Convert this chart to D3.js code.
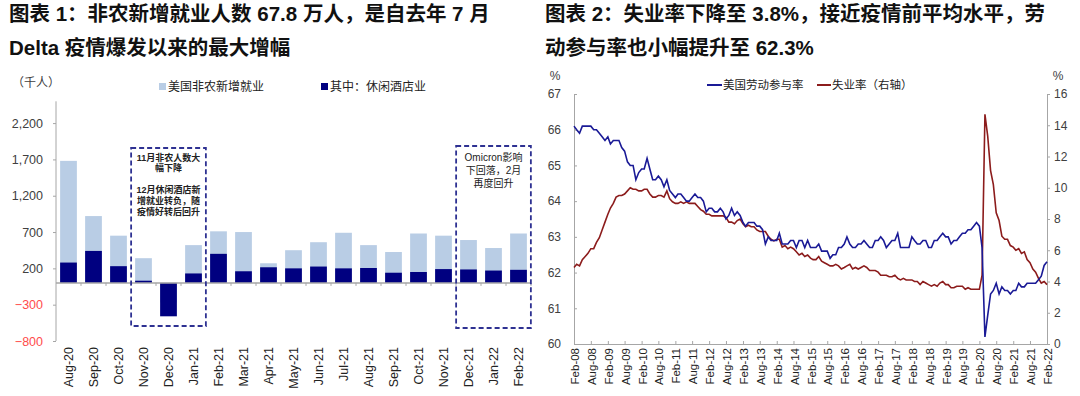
<!DOCTYPE html>
<html>
<head>
<meta charset="utf-8">
<script src="https://cdn.jsdelivr.net/npm/d3@7"></script>
<style>
  body { margin: 0; background: #fff; }
  svg { display: block; font-family: "Liberation Sans", Arial, "Noto Sans CJK SC", sans-serif; }
</style>
</head>
<body>
<script>
// ---- chart 1 data (thousand persons) ----
var months = ["Aug-20","Sep-20","Oct-20","Nov-20","Dec-20","Jan-21","Feb-21","Mar-21","Apr-21","May-21",
  "Jun-21","Jul-21","Aug-21","Sep-21","Oct-21","Nov-21","Dec-21","Jan-22","Feb-22"];
var payrolls = [1680, 920, 650, 340, -270, 520, 710, 700, 270, 450, 560, 690, 520, 425, 680, 650, 590, 480, 680];
var leisure  = [280, 440, 230, 30, -460, 130, 400, 160, 215, 200, 225, 200, 205, 140, 150, 190, 185, 170, 180];
var barTicks = [-800, -300, 200, 700, 1200, 1700, 2200];

// ---- chart 2 data, monthly from Feb-08 to Feb-22 ----
var lfpr = [
  66.1, 66.0, 65.9, 66.1, 66.1, 66.1, 66.1, 66.0, 66.0, 65.9, 65.8,
  65.7, 65.8, 65.6, 65.7, 65.7, 65.7, 65.5, 65.4, 65.1, 65.0, 65.0, 64.6,
  64.8, 64.9, 64.9, 65.2, 64.9, 64.6, 64.6, 64.7, 64.6, 64.4, 64.6, 64.3,
  64.2, 64.1, 64.2, 64.2, 64.1, 64.0, 64.0, 64.1, 64.2, 64.1, 64.1, 64.0,
  63.7, 63.8, 63.8, 63.7, 63.7, 63.8, 63.7, 63.5, 63.6, 63.8, 63.6, 63.7,
  63.6, 63.4, 63.3, 63.4, 63.4, 63.4, 63.3, 63.3, 63.2, 62.8, 63.0, 62.9,
  62.9, 62.9, 63.1, 62.8, 62.8, 62.8, 62.9, 62.9, 62.7, 62.9, 62.9, 62.7,
  62.9, 62.7, 62.7, 62.7, 62.8, 62.6, 62.6, 62.6, 62.4, 62.5, 62.5, 62.7,
  62.7, 62.8, 63.0, 62.8, 62.7, 62.7, 62.8, 62.8, 62.9, 62.8, 62.7, 62.7,
  62.9, 62.9, 63.0, 62.9, 62.7, 62.8, 62.9, 62.9, 63.1, 62.7, 62.7, 62.7,
  62.7, 63.0, 62.9, 62.8, 62.8, 62.9, 62.9, 62.7, 62.7, 62.9, 62.9, 63.0,
  63.1, 63.0, 63.0, 62.8, 62.9, 62.9, 63.0, 63.1, 63.1, 63.2, 63.2, 63.3,
  63.4, 63.3, 62.7, 60.2, 60.8, 61.4, 61.5, 61.7, 61.4, 61.6, 61.5, 61.5,
  61.4, 61.5, 61.5, 61.7, 61.6, 61.6, 61.7, 61.7, 61.7, 61.7, 61.8, 61.9,
  62.2, 62.3];
var unrate = [
  4.9, 5.1, 5.0, 5.4, 5.6, 5.8, 6.1, 6.1, 6.5, 6.8, 7.3,
  7.8, 8.3, 8.7, 9.0, 9.4, 9.5, 9.5, 9.6, 9.8, 10.0, 9.9, 9.9,
  9.8, 9.8, 9.9, 9.9, 9.6, 9.4, 9.4, 9.5, 9.5, 9.4, 9.8, 9.3,
  9.1, 9.0, 9.0, 9.1, 9.0, 9.1, 9.0, 9.0, 9.0, 8.8, 8.6, 8.5,
  8.3, 8.3, 8.2, 8.2, 8.2, 8.2, 8.2, 8.1, 7.8, 7.8, 7.7, 7.9,
  8.0, 7.7, 7.5, 7.6, 7.5, 7.5, 7.3, 7.2, 7.2, 7.2, 6.9, 6.7,
  6.6, 6.7, 6.7, 6.2, 6.3, 6.1, 6.2, 6.1, 5.9, 5.7, 5.8, 5.6,
  5.7, 5.5, 5.4, 5.4, 5.6, 5.3, 5.2, 5.1, 5.0, 5.0, 5.1, 5.0,
  4.8, 4.9, 5.0, 5.1, 4.8, 4.9, 4.8, 4.9, 5.0, 4.9, 4.7, 4.7,
  4.7, 4.6, 4.4, 4.4, 4.4, 4.3, 4.3, 4.4, 4.2, 4.1, 4.2, 4.1,
  4.1, 4.1, 4.0, 4.0, 3.8, 4.0, 3.9, 3.8, 3.7, 3.8, 3.7, 3.9,
  4.0, 3.8, 3.8, 3.6, 3.6, 3.7, 3.7, 3.7, 3.5, 3.6, 3.5, 3.5,
  3.5, 3.5, 4.4, 14.7, 13.3, 11.1, 10.2, 8.4, 7.9, 6.9, 6.7, 6.7,
  6.3, 6.2, 6.0, 6.1, 5.8, 5.9, 5.4, 5.2, 4.8, 4.6, 4.2, 3.9,
  4.0, 3.8];
var leftTicks = [60, 61, 62, 63, 64, 65, 66, 67];
var rightTicks = [0, 2, 4, 6, 8, 10, 12, 14, 16];

var axisGray = "#a6a6a6", textGray = "#404040";

var svg = d3.select("body").append("svg")
    .attr("width", 1080)
    .attr("height", 396);

// titles
function title(x, lines) {
  lines.forEach(function(t, i) {
    svg.append("text")
      .attr("x", x).attr("y", 21 + i * 34)
      .style("font-size", "20.5px").style("font-weight", "bold").attr("fill", "#111")
      .text(t);
  });
}
title(9, ["图表 1：非农新增就业人数 67.8 万人，是自去年 7 月", "Delta 疫情爆发以来的最大增幅"]);
title(545, ["图表 2：失业率下降至 3.8%，接近疫情前平均水平，劳", "动参与率也小幅提升至 62.3%"]);

// ================= chart 1 : bars =================
var g1 = svg.append("g");
var x1 = d3.scaleBand().domain(months).range([56, 531]).paddingInner(0.33).paddingOuter(0.165);
var y1 = d3.scaleLinear().domain([-800, 2500]).range([341, 101.3]);

g1.append("text").attr("x", 12).attr("y", 87).style("font-size", "12px").attr("fill", textGray).text("（千人）");

// legend
g1.append("rect").attr("x", 159).attr("y", 83).attr("width", 7).attr("height", 7).attr("fill", "#b9cde5");
g1.append("text").attr("x", 168).attr("y", 91).style("font-size", "12px").attr("fill", "#222").text("美国非农新增就业");
g1.append("rect").attr("x", 321).attr("y", 83).attr("width", 7).attr("height", 7).attr("fill", "#000080");
g1.append("text").attr("x", 330).attr("y", 91).style("font-size", "12px").attr("fill", "#222").text("其中：休闲酒店业");

// y axis
var yAxis1 = g1.append("g").attr("transform", "translate(56,0)")
    .call(d3.axisLeft(y1).tickValues(barTicks).tickSize(3).tickPadding(10).tickFormat(d3.format(",")));
yAxis1.select(".domain").attr("stroke", axisGray).attr("d", "M0," + y1(2500) + "V" + y1(-800));
yAxis1.selectAll(".tick line").attr("stroke", axisGray);
yAxis1.selectAll(".tick text").style("font-size", "12.5px").style("font-family", "inherit")
    .attr("fill", function(d) { return d < 0 ? "#ff4b4b" : textGray; });

// bars
g1.append("g").selectAll("rect").data(months).enter().append("rect")
    .attr("x", function(d) { return x1(d); })
    .attr("width", x1.bandwidth())
    .attr("y", function(d, i) { return y1(Math.max(0, payrolls[i])); })
    .attr("height", function(d, i) { return Math.abs(y1(payrolls[i]) - y1(0)); })
    .attr("fill", "#b9cde5");
g1.append("g").selectAll("rect").data(months).enter().append("rect")
    .attr("x", function(d) { return x1(d); })
    .attr("width", x1.bandwidth())
    .attr("y", function(d, i) { return y1(Math.max(0, leisure[i])); })
    .attr("height", function(d, i) { return Math.abs(y1(leisure[i]) - y1(0)); })
    .attr("fill", "#000080");

// zero line + category ticks
g1.append("line").attr("x1", 56).attr("x2", 531).attr("y1", y1(0)).attr("y2", y1(0))
    .attr("stroke", axisGray).attr("stroke-width", 1.5);
g1.append("g").selectAll("line").data(months).enter().append("line")
    .attr("x1", function(d) { return x1(d) - x1.step() * x1.paddingInner() / 2 + x1.step(); })
    .attr("x2", function(d) { return x1(d) - x1.step() * x1.paddingInner() / 2 + x1.step(); })
    .attr("y1", y1(0)).attr("y2", y1(0) + 3).attr("stroke", axisGray);

// x labels
g1.append("g").selectAll("text").data(months).enter().append("text")
    .attr("transform", function(d) { return "translate(" + (x1(d) + x1.bandwidth() / 2) + ",347) rotate(-90)"; })
    .attr("text-anchor", "end").attr("dy", "0.35em")
    .style("font-size", "12.5px").attr("fill", "#222")
    .text(function(d) { return d; });

// annotation boxes
var boxColor = "#2e3192";
function noteBox(a, b, yTop, yBottom, lines, lineY, bold, size) {
  var xa = x1(a) - 4, xb = x1(b) + x1.bandwidth() + 4;
  g1.append("rect").attr("x", xa).attr("y", yTop).attr("width", xb - xa).attr("height", yBottom - yTop)
    .attr("fill", "none").attr("stroke", boxColor).attr("stroke-width", 1.8).attr("stroke-dasharray", "5,3");
  lines.forEach(function(t, i) {
    g1.append("text").attr("x", (xa + xb) / 2).attr("y", lineY[i]).attr("dy", "0.35em")
      .attr("text-anchor", "middle").style("font-size", size).style("font-weight", bold ? "bold" : "normal")
      .attr("fill", "#222").text(t);
  });
}
noteBox("Nov-20", "Jan-21", 148, 326,
  ["11月非农人数大", "幅下降", "12月休闲酒店新", "增就业转负，随", "疫情好转后回升"],
  [158, 168, 190, 201, 212], true, "9px");
noteBox("Dec-21", "Feb-22", 146, 328,
  ["Omicron影响", "下回落，2月", "再度回升"],
  [157, 170, 183], false, "10px");

// ================= chart 2 : lines =================
var g2 = svg.append("g");
var dates = d3.timeMonth.range(new Date(2008, 1, 1), new Date(2022, 2, 1));
var x2 = d3.scaleTime().domain([new Date(2008, 1, 1), new Date(2022, 1, 1)]).range([574, 1047]);
var yL = d3.scaleLinear().domain([60, 67]).range([344, 94]);
var yR = d3.scaleLinear().domain([0, 16]).range([344, 94]);

var axL = g2.append("g").attr("transform", "translate(574,0)")
    .call(d3.axisLeft(yL).tickValues(leftTicks).tickSize(-3).tickPadding(13).tickFormat(d3.format("d")));
var axR = g2.append("g").attr("transform", "translate(1047,0)")
    .call(d3.axisRight(yR).tickValues(rightTicks).tickSize(3).tickPadding(4));
var xTicks = d3.timeMonth.range(new Date(2008, 1, 1), new Date(2022, 2, 1), 6);
var axB = g2.append("g").attr("transform", "translate(0,344)")
    .call(d3.axisBottom(x2).tickValues(xTicks).tickSize(-3).tickFormat(""));
[axL, axR, axB].forEach(function(a) {
  a.select(".domain").attr("stroke", axisGray);
  a.selectAll(".tick line").attr("stroke", axisGray);
  a.selectAll(".tick text").style("font-size", "12px").style("font-family", "inherit").attr("fill", textGray);
});

g2.append("g").selectAll("text").data(xTicks).enter().append("text")
    .attr("transform", function(d) { return "translate(" + (x2(d) + 1) + ",348) rotate(-90)"; })
    .attr("text-anchor", "end").attr("dy", "0.35em")
    .style("font-size", "11.5px").attr("fill", "#222")
    .text(d3.timeFormat("%b-%y"));

g2.append("text").attr("x", 555).attr("y", 80).attr("text-anchor", "middle")
    .style("font-size", "12px").attr("fill", textGray).text("%");
g2.append("text").attr("x", 1058).attr("y", 80).attr("text-anchor", "middle")
    .style("font-size", "12px").attr("fill", textGray).text("%");

var blue = "#1a1a96", red = "#8c1c1c";
g2.append("path").datum(unrate)
    .attr("fill", "none").attr("stroke", red).attr("stroke-width", 1.6)
    .attr("d", d3.line().x(function(d, i) { return x2(dates[i]); }).y(function(d) { return yR(d); }));
g2.append("path").datum(lfpr)
    .attr("fill", "none").attr("stroke", blue).attr("stroke-width", 1.6)
    .attr("d", d3.line().x(function(d, i) { return x2(dates[i]); }).y(function(d) { return yL(d); }));

// legend
g2.append("line").attr("x1", 707).attr("x2", 722).attr("y1", 85).attr("y2", 85).attr("stroke", blue).attr("stroke-width", 2);
g2.append("text").attr("x", 723).attr("y", 89).style("font-size", "11.5px").attr("fill", "#222").text("美国劳动参与率");
g2.append("line").attr("x1", 817).attr("x2", 831).attr("y1", 85).attr("y2", 85).attr("stroke", red).attr("stroke-width", 2);
g2.append("text").attr("x", 832).attr("y", 89).style("font-size", "11.5px").attr("fill", "#222").text("失业率（右轴）");
</script>
</body>
</html>
